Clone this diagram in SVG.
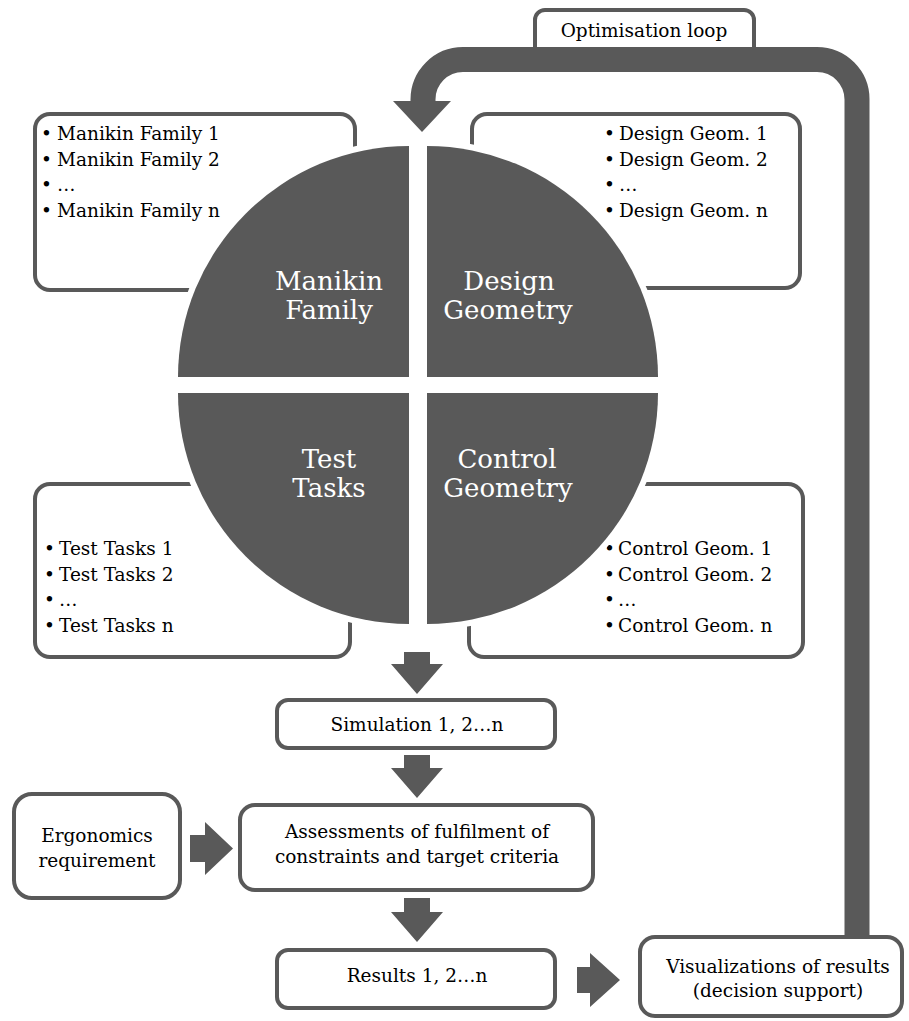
<svg xmlns="http://www.w3.org/2000/svg" width="909" height="1021" viewBox="0 0 909 1021">
<style>
.box{fill:#fff;stroke:#595959;stroke-width:4}
.q{fill:#595959;stroke:#fff;stroke-width:12;paint-order:stroke}
.ar{fill:#595959}
.t{font-family:"DejaVu Serif","Liberation Serif",serif;font-size:18.5px;fill:#000}
.c{text-anchor:middle}
.qt{font-family:"DejaVu Serif","Liberation Serif",serif;font-size:26px;fill:#fff;text-anchor:middle}
</style>
<rect width="909" height="1021" fill="#fff"/>
<g id="manikin-list">
<rect class="box" x="35" y="114" width="320" height="176" rx="15"/>
<text class="t"><tspan x="41" y="140">•</tspan><tspan x="57" y="140">Manikin Family 1</tspan><tspan x="41" y="166">•</tspan><tspan x="57" y="166">Manikin Family 2</tspan><tspan x="41" y="191">•</tspan><tspan x="57" y="191">…</tspan><tspan x="41" y="217">•</tspan><tspan x="57" y="217">Manikin Family n</tspan></text>
</g>
<g id="design-list">
<rect class="box" x="472" y="114" width="328" height="174" rx="15"/>
<text class="t"><tspan x="604" y="140">•</tspan><tspan x="619" y="140">Design Geom. 1</tspan><tspan x="604" y="166">•</tspan><tspan x="619" y="166">Design Geom. 2</tspan><tspan x="604" y="191">•</tspan><tspan x="619" y="191">…</tspan><tspan x="604" y="217">•</tspan><tspan x="619" y="217">Design Geom. n</tspan></text>
</g>
<g id="test-list">
<rect class="box" x="35" y="484" width="315" height="173" rx="15"/>
<text class="t"><tspan x="44" y="555">•</tspan><tspan x="59" y="555">Test Tasks 1</tspan><tspan x="44" y="581">•</tspan><tspan x="59" y="581">Test Tasks 2</tspan><tspan x="44" y="606">•</tspan><tspan x="59" y="606">…</tspan><tspan x="44" y="632">•</tspan><tspan x="59" y="632">Test Tasks n</tspan></text>
</g>
<g id="control-list">
<rect class="box" x="469" y="484" width="334" height="173" rx="15"/>
<text class="t"><tspan x="604" y="555">•</tspan><tspan x="618" y="555">Control Geom. 1</tspan><tspan x="604" y="581">•</tspan><tspan x="618" y="581">Control Geom. 2</tspan><tspan x="604" y="606">•</tspan><tspan x="618" y="606">…</tspan><tspan x="604" y="632">•</tspan><tspan x="618" y="632">Control Geom. n</tspan></text>
</g>
<g id="q-manikin">
<path class="q" d="M409 377V146A231 231 0 0 0 178 377Z"/>
<text class="qt"><tspan x="329" y="290">Manikin</tspan><tspan x="329" y="319">Family</tspan></text>
</g>
<g id="q-design">
<path class="q" d="M427 377H658A231 231 0 0 0 427 146Z"/>
<text class="qt"><tspan x="509" y="290">Design</tspan><tspan x="508" y="319">Geometry</tspan></text>
</g>
<g id="q-test">
<path class="q" d="M409 393H178A231 231 0 0 0 409 624Z"/>
<text class="qt"><tspan x="329" y="468">Test</tspan><tspan x="329" y="497">Tasks</tspan></text>
</g>
<g id="q-control">
<path class="q" d="M427 393V624A231 231 0 0 0 658 393Z"/>
<text class="qt"><tspan x="507" y="468">Control</tspan><tspan x="508" y="497">Geometry</tspan></text>
</g>
<g id="loop-label">
<path class="box" d="M535 50V20A10 10 0 0 1 545 10H744A10 10 0 0 1 754 20V50Z"/>
<text class="t c" x="644" y="37">Optimisation loop</text>
</g>
<g id="connectors">
<path d="M857 940V100A40 40 0 0 0 817 59.5H463A40 40 0 0 0 423 99.5V102" fill="none" stroke="#595959" stroke-width="25"/>
<polygon class="ar" points="393,101 451,101 422,132"/>
<polygon class="ar" points="404,652 430,652 430,664 443,664 417,694 391,664 404,664"/>
<polygon class="ar" points="404,755 430,755 430,768 443,768 417,798 391,768 404,768"/>
<polygon class="ar" points="404,898 430,898 430,912 443,912 417,942 391,912 404,912"/>
<polygon class="ar" points="190,835 205,835 205,822 233,848.5 205,875 205,862 190,862"/>
<polygon class="ar" points="577,967 590,967 590,953 620,980 590,1007 590,993 577,993"/>
</g>
<g id="simulation">
<rect class="box" x="277" y="700" width="278" height="48" rx="11"/>
<text class="t c" x="417" y="731">Simulation 1, 2…n</text>
</g>
<g id="ergonomics">
<rect class="box" x="14" y="794" width="166" height="104" rx="18"/>
<text class="t c"><tspan x="97" y="842">Ergonomics</tspan><tspan x="97" y="867">requirement</tspan></text>
</g>
<g id="assessments">
<rect class="box" x="240" y="805" width="353" height="85" rx="15"/>
<text class="t c"><tspan x="417" y="838">Assessments of fulfilment of</tspan><tspan x="417" y="863">constraints and target criteria</tspan></text>
</g>
<g id="results">
<rect class="box" x="277" y="950" width="278" height="58" rx="11"/>
<text class="t c" x="417" y="982">Results 1, 2…n</text>
</g>
<g id="visualizations">
<rect class="box" x="640" y="937" width="262" height="79" rx="15"/>
<text class="t c"><tspan x="778" y="973">Visualizations of results</tspan><tspan x="778" y="997">(decision support)</tspan></text>
</g>
</svg>
